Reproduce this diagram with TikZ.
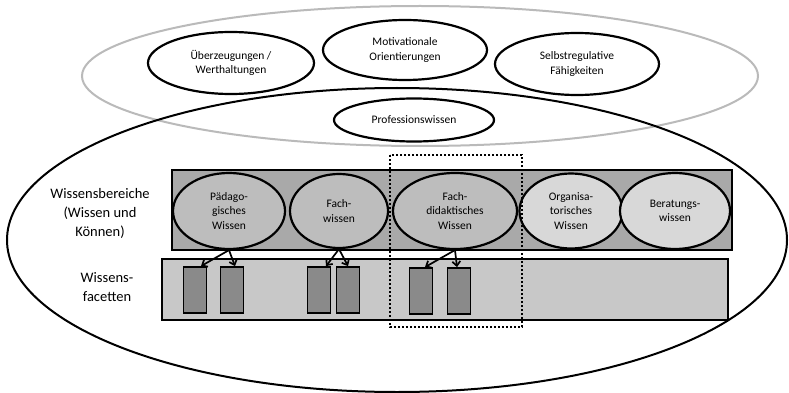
\documentclass[tikz,border=0pt]{standalone}
\usepackage{fontspec}
\setmainfont{Carlito}
\usepackage{xcolor}
\usetikzlibrary{shapes,arrows,positioning,calc,arrows.meta}

\definecolor{barDark}{HTML}{A9A9A9}
\definecolor{barLight}{HTML}{C8C8C8}
\definecolor{ellDark}{HTML}{BDBDBD}
\definecolor{ellLight}{HTML}{D8D8D8}
\definecolor{facet}{HTML}{8A8A8A}
\definecolor{ringGray}{HTML}{BABABA}

\begin{document}
\begin{tikzpicture}[x=1pt, y=-1pt,
    oval/.style={draw, ellipse, line width=2.2pt, inner sep=0pt, align=center, font=\fontsize{11.5}{14.5}\selectfont},
    facetbox/.style={draw, line width=1.8pt, fill=facet, minimum width=23pt, minimum height=46pt, inner sep=0pt},
    pfeil/.style={line width=1.7pt, -{Straight Barb[length=4.5pt, width=8pt]}}]
    \useasboundingbox (0,0) rectangle (789,393);
    \fill[white] (0,0) rectangle (789,393);

    % outer rings
    \draw[ringGray, line width=2pt] (420,76) ellipse [x radius=338pt, y radius=70pt];
    \draw[line width=2pt] (397,240) ellipse [x radius=390pt, y radius=152pt];

    \node[oval, fill=white, minimum width=166pt, minimum height=62pt] (uberz) at (231,63) {Überzeugungen /\\Werthaltungen};
    \node[oval, fill=white, minimum width=164pt, minimum height=60pt] (motiv) at (405,50) {Motivationale\\Orientierungen};
    \node[oval, fill=white, minimum width=164pt, minimum height=62pt] (selbst) at (577,64) {Selbstregulative\\Fähigkeiten};
    \node[oval, fill=white, minimum width=160pt, minimum height=43pt] (prof) at (414,120) {Professionswissen};

    % bars
    \draw[line width=2pt, fill=barDark] (172,170) rectangle (732,250);
    \draw[line width=2pt, fill=barLight] (162,259) rectangle (728,320);

    \node[align=center, font=\fontsize{14.5}{19}\selectfont] (bereiche) at (100,213) {Wissensbereiche\\(Wissen und\\Können)};
    \node[align=center, font=\fontsize{14.5}{19}\selectfont] (facetten) at (107,287) {Wissens-\\facetten};

    \node[oval, fill=ellDark, minimum width=112pt, minimum height=76pt] (paed) at (229,211) {Pädago-\\gisches\\Wissen};
    \node[oval, fill=ellDark, minimum width=98pt, minimum height=74pt] (fach) at (339,211) {Fach-\\wissen};
    \node[oval, fill=ellDark, minimum width=124pt, minimum height=76pt] (fdid) at (455,211) {Fach-\\didaktisches\\Wissen};
    \node[oval, fill=ellLight, minimum width=103pt, minimum height=75pt] (orga) at (571,211) {Organisa-\\torisches\\Wissen};
    \node[oval, fill=ellLight, minimum width=110pt, minimum height=76pt] (berat) at (675,211) {Beratungs-\\wissen};

    % facets
    \node[facetbox] (f1) at (195,290) {};
    \node[facetbox] (f2) at (232,290) {};
    \node[facetbox] (f3) at (319,290) {};
    \node[facetbox] (f4) at (348,290) {};
    \node[facetbox] (f5) at (421,291) {};
    \node[facetbox] (f6) at (459,291) {};

    \draw[pfeil] (paed.south) -- ([xshift=6pt]f1.north);
    \draw[pfeil] (paed.south) -- ([xshift=3pt]f2.north);
    \draw[pfeil] (fach.south) -- ([xshift=7pt]f3.north);
    \draw[pfeil] (fach.south) -- (f4.north);
    \draw[pfeil] (fdid.south) -- ([xshift=4pt]f5.north);
    \draw[pfeil] (fdid.south) -- ([xshift=-2pt]f6.north);

    % focus box
    \draw[line width=2pt, dash pattern=on 2pt off 2pt] (390,155) rectangle (522,327);
\end{tikzpicture}
\end{document}
